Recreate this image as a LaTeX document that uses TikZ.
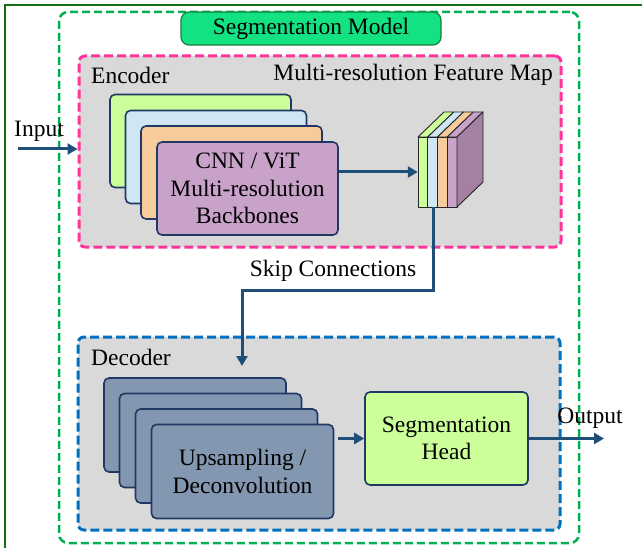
\documentclass[tikz,border=0pt]{standalone}
\usepackage{fontspec}
\setmainfont{Liberation Serif}
\usetikzlibrary{arrows.meta}
\definecolor{frameg}{RGB}{20,110,20}
\definecolor{outerg}{HTML}{00B050}
\definecolor{pinkd}{HTML}{FF3399}
\definecolor{blued}{HTML}{0070C0}
\definecolor{grayf}{HTML}{D9D9D9}
\definecolor{titlef}{HTML}{12E282}
\definecolor{titled}{HTML}{16803A}
\definecolor{navy}{HTML}{1F3864}
\definecolor{arrowc}{HTML}{1F4E79}
\definecolor{decf}{HTML}{8497B0}
\definecolor{lgreen}{HTML}{CCFF99}
\definecolor{lblue}{HTML}{D0E6F4}
\definecolor{lorange}{HTML}{F8CB9C}
\definecolor{lpurple}{HTML}{C9A2C9}
\definecolor{dpurple}{HTML}{A480A3}
\tikzset{
  lbl/.style={font=\rmfamily\fontsize{23.5}{27.5}\selectfont, inner sep=0pt, align=center},
  region/.style={draw, line width=3pt, dash pattern=on 9pt off 4pt, fill=grayf, rounded corners=6pt, minimum width=482pt, inner sep=0pt},
  card/.style={draw=navy, line width=1.6pt, rounded corners=5pt, minimum width=181pt, minimum height=93pt, inner sep=0pt, align=center, font=\rmfamily\fontsize{23.5}{27.5}\selectfont},
  conn/.style={draw=arrowc, line width=3pt, -{Triangle[length=10pt,width=11pt]}},
  cubeline/.style={draw=black!85, line width=0.9pt, line join=round}
}
\begin{document}
\begin{tikzpicture}[x=1pt,y=-1pt]
\useasboundingbox (0,0) rectangle (642,548);
% outer frame
\draw[frameg, line width=2.5pt] (5,548) -- (5,5) -- (642,5);
% outer green dashed
\node[draw=outerg, line width=2.5pt, dash pattern=on 8pt off 4pt, rounded corners=9pt, minimum width=520pt, minimum height=531pt, inner sep=0pt] (model) at (319,277.5) {};
% regions
\node[region, draw=pinkd, minimum height=191pt] (enc) at (320,151.5) {};
\node[region, draw=blued, minimum height=193pt] (dec) at (319,433.5) {};
% title
\node[draw=titled, line width=1.2pt, fill=titlef, rounded corners=8pt, minimum width=260pt, minimum height=33pt, inner sep=0pt, font=\rmfamily\fontsize{23.5}{27.5}\selectfont] (title) at (311,28.5) {Segmentation Model};
% labels
\node[lbl, anchor=west] (enclbl) at (91,75) {Encoder};
\node[lbl, anchor=east] (fmlbl) at (553,75) {Multi-resolution Feature Map};
\node[lbl, anchor=west] (declbl) at (91,357) {Decoder};
% encoder cards
\node[card, fill=lgreen] (e1) at (200.5,141) {};
\node[card, fill=lblue] (e2) at (216,157) {};
\node[card, fill=lorange] (e3) at (231.5,172.5) {};
\node[card, fill=lpurple] (e4) at (247.5,188.5) {CNN / ViT\\Multi-resolution\\Backbones};
% decoder cards
\node[card, fill=decf, minimum width=182pt, minimum height=94pt] (d1) at (195,425) {};
\node[card, fill=decf, minimum width=182pt, minimum height=94pt] (d2) at (210.5,440.5) {};
\node[card, fill=decf, minimum width=182pt, minimum height=94pt] (d3) at (226.5,456) {};
\node[card, fill=decf, minimum width=182pt, minimum height=94pt] (d4) at (242.5,471.5) {Upsampling /\\Deconvolution};
% segmentation head
\node[card, fill=lgreen, minimum width=163pt] (head) at (446.5,438.5) {Segmentation\\Head};
% feature map cube
\node[minimum width=39pt, minimum height=70pt, inner sep=0pt] (cube) at (437.5,172) {};
\foreach \i/\c in {0/lgreen,1/lblue,2/lorange,3/lpurple}{
  \pgfmathsetmacro{\xa}{418+9.75*\i}
  \pgfmathsetmacro{\xb}{418+9.75*(\i+1)}
  \draw[cubeline, fill=\c] (\xa,137) -- (\xa+26,112) -- (\xb+26,112) -- (\xb,137) -- cycle;
  \draw[cubeline, fill=\c] (\xa,137) rectangle (\xb,207);
}
\draw[cubeline, fill=dpurple] (457,137) -- (483,112) -- (483,182) -- (457,207) -- cycle;
% connectors
\coordinate (inpt) at (18,149);
\node[lbl] (inlbl) at (39,131) {Input};
\draw[conn] (inpt) -- (enc.west |- inpt);
\draw[conn] (e4.east |- cube.west) -- (cube.west);
\coordinate (skipturn) at (242,290);
\coordinate (skipend) at (242,366);
\draw[conn] ([xshift=-4.5pt]cube.south) |- (skipturn) -- (skipend);
\node[lbl] (skiplbl) at (333,271) {Skip Connections};
\draw[conn] ([xshift=4pt]d4.east |- head.west) -- (head.west);
\coordinate (outpt) at (604,438.5);
\draw[conn] (head.east) -- (outpt);
\node[lbl] (outlbl) at (590,418) {Output};
\end{tikzpicture}
\end{document}
